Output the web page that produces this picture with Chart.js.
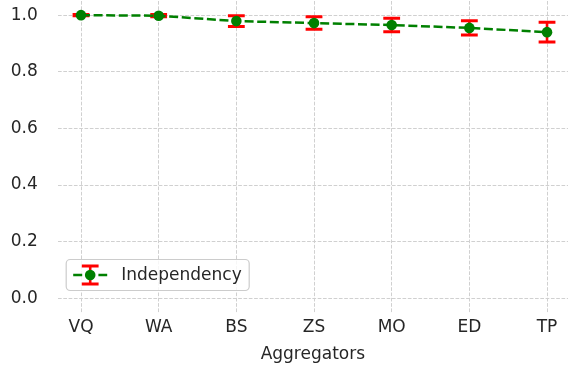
<!DOCTYPE html>
<html>
<head>
<meta charset="utf-8">
<script src="https://cdn.jsdelivr.net/npm/chart.js@4"></script>
<style>
  html, body { margin: 0; padding: 0; background: #fff; }
</style>
</head>
<body>
<canvas id="chart" width="568" height="367"></canvas>
<script>
const aggregators = ['VQ', 'WA', 'BS', 'ZS', 'MO', 'ED', 'TP'];
const independency = [1.000, 0.998, 0.979, 0.972, 0.965, 0.955, 0.940];
const independencyErr = [0.002, 0.004, 0.019, 0.022, 0.024, 0.025, 0.035];
const yTicks = [0.0, 0.2, 0.4, 0.6, 0.8, 1.0];

const textColor = '#262626';
const gridColor = '#d0d0d0';
const font = { family: 'DejaVu Sans', size: 17 };
const lineDash = [9, 3.6];

// red error bars with caps, drawn under the line + markers
const errorBars = {
  id: 'errorBars',
  beforeDatasetsDraw(chart) {
    const ctx = chart.ctx;
    const xs = chart.scales.x, ys = chart.scales.y;
    ctx.save();
    ctx.strokeStyle = '#ff0000';
    independency.forEach((v, i) => {
      const x = xs.getPixelForValue(i);
      const yLo = ys.getPixelForValue(v - independencyErr[i]);
      const yHi = ys.getPixelForValue(v + independencyErr[i]);
      ctx.lineWidth = 2.6;
      ctx.beginPath();
      ctx.moveTo(x, yLo);
      ctx.lineTo(x, yHi);
      ctx.stroke();
      ctx.lineWidth = 3;
      ctx.beginPath();
      ctx.moveTo(x - 8.4, yLo); ctx.lineTo(x + 8.4, yLo);
      ctx.moveTo(x - 8.4, yHi); ctx.lineTo(x + 8.4, yHi);
      ctx.stroke();
    });
    ctx.restore();
  }
};

// matplotlib-like legend in lower left of the plot
const boxLegend = {
  id: 'boxLegend',
  afterDraw(chart) {
    const ctx = chart.ctx;
    const a = chart.chartArea;
    const bx = a.left + 8.5, by = a.bottom - 53, bw = 183, bh = 31;
    ctx.save();
    ctx.fillStyle = 'rgba(255,255,255,0.8)';
    ctx.strokeStyle = '#cccccc';
    ctx.lineWidth = 1.2;
    ctx.beginPath();
    ctx.roundRect(bx, by, bw, bh, 4);
    ctx.fill();
    ctx.stroke();

    const cy = by + bh / 2;
    const cx = bx + 24;
    ctx.strokeStyle = '#008000';
    ctx.lineWidth = 2.5;
    ctx.setLineDash(lineDash);
    ctx.beginPath();
    ctx.moveTo(cx - 17, cy); ctx.lineTo(cx + 17, cy);
    ctx.stroke();
    ctx.setLineDash([]);
    ctx.strokeStyle = '#ff0000';
    ctx.lineWidth = 2.6;
    ctx.beginPath();
    ctx.moveTo(cx, cy - 9); ctx.lineTo(cx, cy + 9);
    ctx.stroke();
    ctx.lineWidth = 3;
    ctx.beginPath();
    ctx.moveTo(cx - 8.4, cy - 9); ctx.lineTo(cx + 8.4, cy - 9);
    ctx.moveTo(cx - 8.4, cy + 9); ctx.lineTo(cx + 8.4, cy + 9);
    ctx.stroke();
    ctx.fillStyle = '#008000';
    ctx.beginPath();
    ctx.arc(cx, cy, 5.3, 0, Math.PI * 2);
    ctx.fill();

    ctx.fillStyle = textColor;
    ctx.font = '17px "DejaVu Sans"';
    ctx.textBaseline = 'middle';
    ctx.fillText('Independency', bx + 55, cy + 1);
    ctx.restore();
  }
};

new Chart(document.getElementById('chart'), {
  type: 'line',
  data: {
    datasets: [{
      label: 'Independency',
      data: independency.map((v, i) => ({ x: i, y: v })),
      borderColor: '#008000',
      backgroundColor: '#008000',
      borderWidth: 2.5,
      borderDash: lineDash,
      pointRadius: 5.3,
      pointBorderWidth: 0,
      pointBackgroundColor: '#008000',
      fill: false,
      tension: 0,
      clip: false
    }]
  },
  options: {
    responsive: false,
    animation: false,
    layout: { padding: { top: 1, left: 0, right: 0, bottom: 0 }, autoPadding: false },
    plugins: {
      legend: { display: false },
      tooltip: { enabled: false }
    },
    scales: {
      x: {
        type: 'linear',
        min: -0.3,
        max: 6.27,
        afterBuildTicks: (axis) => { axis.ticks = aggregators.map((_, i) => ({ value: i })); },
        afterFit: (axis) => {
          axis.height = 54.5;
          axis.paddingLeft = 0;
          axis.paddingRight = 0;
        },
        ticks: {
          callback: (v) => aggregators[v],
          color: textColor,
          font: font,
          padding: 5,
          maxRotation: 0,
          autoSkip: false
        },
        grid: { color: gridColor, lineWidth: 1, drawTicks: false },
        border: { display: false, dash: [3.7, 1.6] },
        title: {
          display: true,
          text: 'Aggregators',
          color: textColor,
          font: font,
          padding: { top: 2, bottom: 2 }
        }
      },
      y: {
        min: -0.05,
        max: 1.05,
        afterBuildTicks: (axis) => { axis.ticks = yTicks.map(v => ({ value: v })); },
        afterFit: (axis) => {
          axis.width = 57.7;
          axis.paddingTop = 0;
          axis.paddingBottom = 0;
        },
        ticks: {
          callback: (v) => v.toFixed(1),
          color: textColor,
          font: font,
          padding: 20
        },
        grid: { color: gridColor, lineWidth: 1, drawTicks: false },
        border: { display: false, dash: [3.7, 1.6] }
      }
    }
  },
  plugins: [errorBars, boxLegend]
});
</script>
</body>
</html>
